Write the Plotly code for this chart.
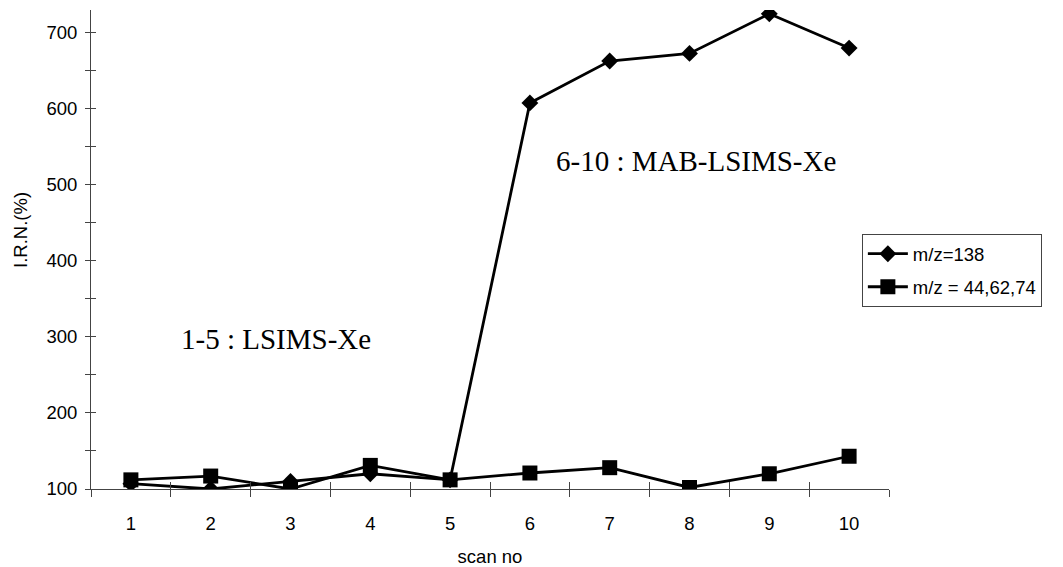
import plotly.graph_objects as go

# scan numbers and normalised relative intensities (%)
scans = [1, 2, 3, 4, 5, 6, 7, 8, 9, 10]
mz138 = [107, 100, 110, 120, 112, 607, 662, 672, 724, 679]
mz44_62_74 = [112, 117, 100, 131, 112, 121, 128, 102, 120, 143]
y_ticks = [100, 150, 200, 250, 300, 350, 400, 450, 500, 550, 600, 650, 700]
y_labels = ["100", "", "200", "", "300", "", "400", "", "500", "", "600", "", "700"]
x_bounds = [0.5, 1.5, 2.5, 3.5, 4.5, 5.5, 6.5, 7.5, 8.5, 9.5, 10.5]

SANS = "Liberation Sans"
SERIF = "Liberation Serif"
AXIS_COLOR = "#444444"
FS = 18.5
X_RANGE = [0.5, 10.5]
Y_RANGE = [100, 729]

fig = go.Figure()
fig.add_trace(go.Scatter(
    x=scans, y=mz138, name="m/z=138", mode="lines+markers",
    legendgroup="a",
    line=dict(color="black", width=2.8),
    marker=dict(symbol="diamond", size=13, color="black"),
))
fig.add_trace(go.Scatter(
    x=scans, y=mz44_62_74, name="m/z = 44,62,74", mode="lines+markers",
    legendgroup="b",
    line=dict(color="black", width=2.8),
    marker=dict(symbol="square", size=15, color="black"),
))
# empty traces so the overlay axes (crossing tick marks) get drawn
fig.add_trace(go.Scatter(x=[], y=[], xaxis="x2", yaxis="y2", showlegend=False))
fig.add_trace(go.Scatter(x=[], y=[], xaxis="x3", yaxis="y2", showlegend=False))

fig.update_layout(
    width=1063, height=567,
    margin=dict(l=91, r=174, t=10, b=78),
    plot_bgcolor="white", paper_bgcolor="white",
    font=dict(family=SANS, size=FS, color="black"),
    xaxis=dict(
        range=X_RANGE, tickvals=scans, ticktext=[str(s) for s in scans],
        ticks="", showline=True, linecolor=AXIS_COLOR, linewidth=1,
        showgrid=False, zeroline=False, ticklabelstandoff=18,
        automargin=False,
        title=dict(text="scan no", font=dict(size=FS), standoff=20),
    ),
    xaxis2=dict(
        range=X_RANGE, overlaying="x", anchor="y", tickvals=x_bounds,
        ticks="outside", ticklen=7, tickcolor=AXIS_COLOR,
        showticklabels=False, showgrid=False, zeroline=False, showline=False,
    ),
    xaxis3=dict(
        range=X_RANGE, overlaying="x", anchor="y", tickvals=x_bounds,
        ticks="inside", ticklen=7, tickcolor=AXIS_COLOR,
        showticklabels=False, showgrid=False, zeroline=False, showline=False,
    ),
    yaxis=dict(
        range=Y_RANGE, tickvals=y_ticks, ticktext=y_labels,
        ticks="outside", ticklen=5, tickcolor=AXIS_COLOR,
        showline=True, linecolor=AXIS_COLOR, linewidth=1,
        showgrid=False, zeroline=False, ticklabelstandoff=4,
        automargin=False,
    ),
    yaxis2=dict(
        range=Y_RANGE, overlaying="y", anchor="x", tickvals=y_ticks,
        ticks="inside", ticklen=5, tickcolor=AXIS_COLOR,
        showticklabels=False, showgrid=False, zeroline=False, showline=False,
    ),
    legend=dict(
        x=0.966, y=0.532, xanchor="left", yanchor="top",
        bordercolor="#444444", borderwidth=1, bgcolor="white",
        font=dict(family=SANS, size=FS), itemwidth=40,
        tracegroupgap=6,
    ),
    annotations=[
        # y-axis title, set a little above the axis midpoint
        dict(text="I.R.N.(%)", xref="paper", yref="paper",
             x=-0.089, y=(489 - 230) / 479, showarrow=False,
             textangle=-90, xanchor="center", yanchor="middle",
             font=dict(family=SANS, size=FS)),
        dict(text="6-10 : MAB-LSIMS-Xe", xref="paper", yref="paper",
             x=(696 - 91) / 798, y=(489 - 161) / 479, showarrow=False,
             xanchor="center", yanchor="middle",
             font=dict(family=SERIF, size=29)),
        dict(text="1-5 : LSIMS-Xe", xref="paper", yref="paper",
             x=(276 - 91) / 798, y=(489 - 339) / 479, showarrow=False,
             xanchor="center", yanchor="middle",
             font=dict(family=SERIF, size=29)),
    ],
)

fig.write_html("out.html")
